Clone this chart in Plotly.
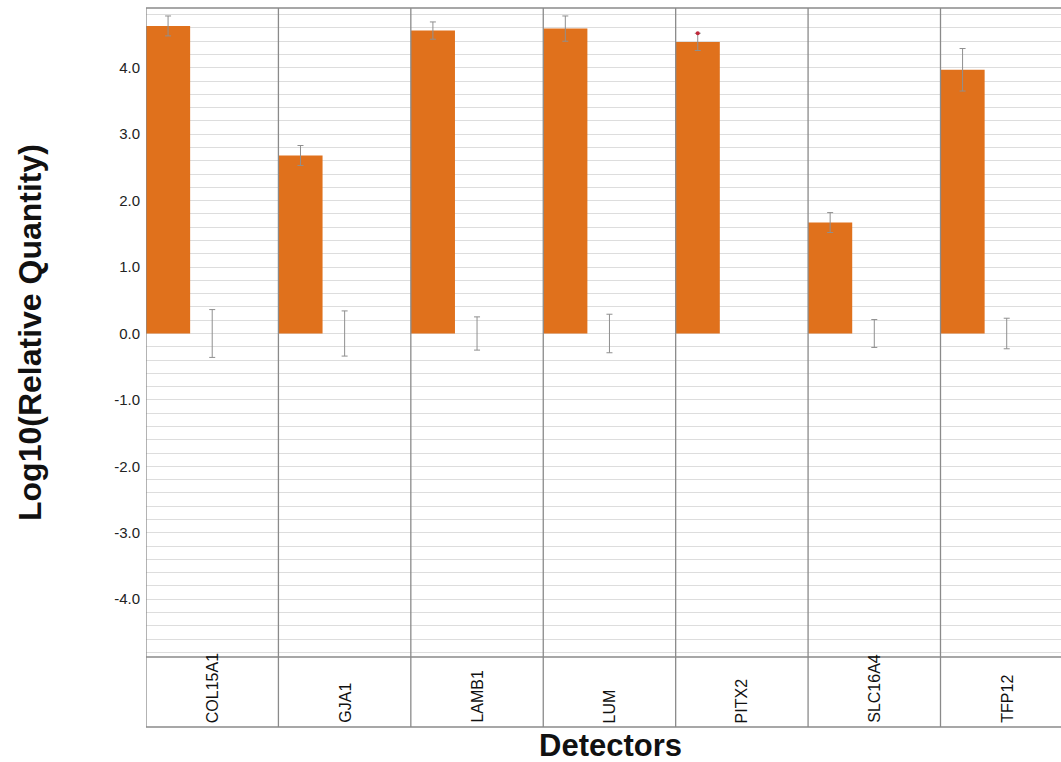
import plotly.graph_objects as go

detectors = ["COL15A1", "GJA1", "LAMB1", "LUM", "PITX2", "SLC16A4", "TFP12"]
sample_rq = [4.63, 2.68, 4.56, 4.59, 4.39, 1.67, 3.97]
sample_err = [0.15, 0.15, 0.13, 0.19, 0.13, 0.15, 0.32]
calib_rq = [0.0, 0.0, 0.0, 0.0, 0.0, 0.0, 0.0]
calib_err = [0.36, 0.34, 0.25, 0.29, None, 0.21, 0.23]
flagged = [False, False, False, False, True, False, False]
y_ticks = [-4, -3, -2, -1, 0, 1, 2, 3, 4]

FONT = "Liberation Sans, Arial, sans-serif"
ORANGE = "#E0711C"
ERR = "#8f8f8f"
LINE = "#8a8a8a"

W, H = 1061, 762
ML, MR, MT, MB = 146, 0, 8, 105
plot_w = W - ML - MR
plot_h = H - MT - MB

idx = list(range(len(detectors)))
fig = go.Figure()

fig.add_trace(go.Bar(
    x=idx, y=sample_rq, width=1/3, offset=-0.5,
    marker=dict(color=ORANGE, line=dict(width=0)),
    error_y=dict(type="data", array=sample_err, color=ERR, thickness=1, width=3),
    showlegend=False,
))
cx = [i for i, e in zip(idx, calib_err) if e is not None]
cy = [v for v, e in zip(calib_rq, calib_err) if e is not None]
ce = [e for e in calib_err if e is not None]
fig.add_trace(go.Bar(
    x=cx, y=cy, width=1/3, offset=-1/6,
    marker=dict(color="rgba(0,0,0,0)", line=dict(width=0)),
    error_y=dict(type="data", array=ce, color=ERR, thickness=1, width=3),
    showlegend=False,
))
fx = [i - 1/3 for i, f in zip(idx, flagged) if f]
fy = [v + e for v, e, f in zip(sample_rq, sample_err, flagged) if f]
fig.add_trace(go.Scatter(
    x=fx, y=fy, mode="markers",
    marker=dict(color="#c0283a", size=4), showlegend=False,
))

box_bottom = -(727 - (H - MB)) / plot_h
shapes = []
for i in idx:
    shapes.append(dict(type="line", xref="x", yref="paper", x0=i - 0.5, x1=i - 0.5,
                       y0=box_bottom, y1=1, line=dict(color=LINE, width=1.3), layer="above"))
for yy in [1, 0, box_bottom]:
    shapes.append(dict(type="line", xref="paper", yref="paper", x0=0, x1=1,
                       y0=yy, y1=yy, line=dict(color=LINE, width=1.3), layer="above"))


def px_x(p):
    return (p - ML) / plot_w


def px_y(p):
    return (H - MB - p) / plot_h


annotations = []
for i, d in zip(idx, detectors):
    annotations.append(dict(x=i, y=px_y(725), xref="x", yref="paper", text=d,
                            textangle=-90, showarrow=False, xanchor="center",
                            yanchor="bottom", font=dict(family=FONT, size=16, color="#111")))
annotations.append(dict(x=px_x(610), y=px_y(745), xref="paper", yref="paper",
                        text="<b>Detectors</b>", showarrow=False,
                        xanchor="center", yanchor="middle",
                        font=dict(family=FONT, size=31, color="#111")))
annotations.append(dict(x=px_x(30), y=px_y(333), xref="paper", yref="paper",
                        text="<b>Log10(Relative Quantity)</b>", textangle=-90,
                        showarrow=False, xanchor="center", yanchor="middle",
                        font=dict(family=FONT, size=32, color="#111")))

fig.update_layout(
    width=W, height=H,
    margin=dict(l=ML, r=MR, t=MT, b=MB, pad=0),
    paper_bgcolor="white", plot_bgcolor="white",
    barmode="overlay",
    xaxis=dict(range=[-0.5, 6.41], showticklabels=False, showgrid=False,
               zeroline=False, showline=False, ticks=""),
    yaxis=dict(range=[-4.87, 4.9], tickvals=y_ticks,
               ticktext=[f"{v:.1f}" for v in y_ticks],
               showgrid=True, gridcolor="#dddddd", gridwidth=1,
               minor=dict(dtick=0.2, tick0=0, showgrid=True, gridcolor="#dddddd", gridwidth=1),
               zeroline=False, showline=False, ticks="", ticklabelstandoff=5,
               tickfont=dict(family=FONT, size=15, color="#222")),
    shapes=shapes,
    annotations=annotations,
)

fig.write_html("out.html", config={"displayModeBar": False},
               post_script="document.body.style.margin='0';")
